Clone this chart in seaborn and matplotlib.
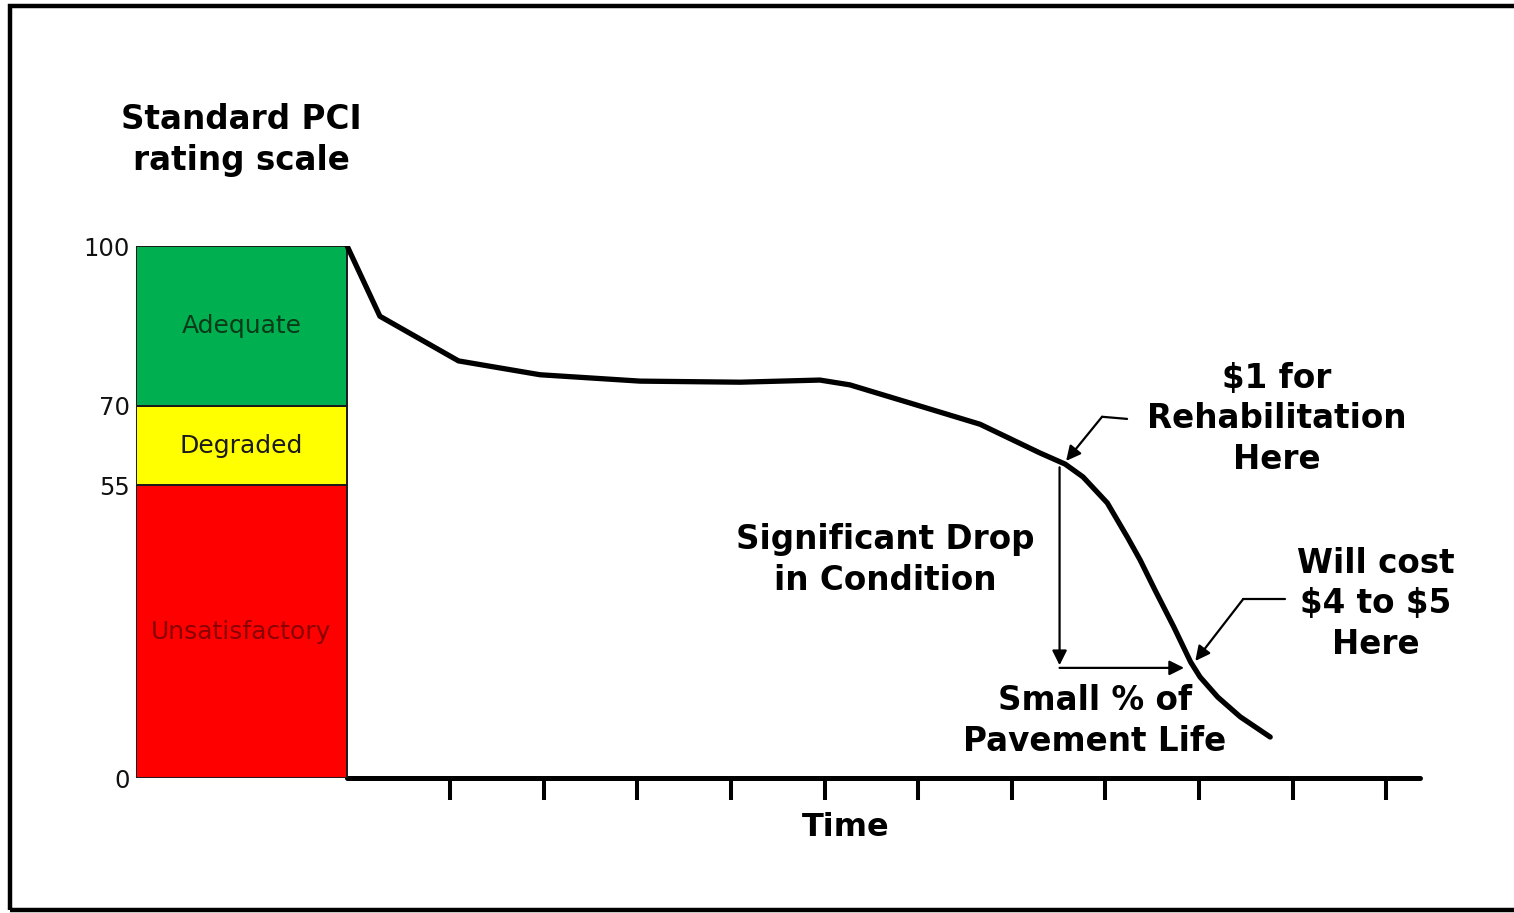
import numpy as np
import pandas as pd
import matplotlib
matplotlib.use("Agg")
import matplotlib.pyplot as plt
from matplotlib.patches import Rectangle
import seaborn as sns

# ---------------- data ----------------
band_names = ["Unsatisfactory", "Degraded", "Adequate"]
band_low = [0, 55, 70]
band_high = [55, 70, 100]
band_colors = ["#FF0000", "#FFFF00", "#00B050"]
band_text_colors = ["#8a0000", "#1a1a1a", "#0b3a18"]

y_tick_values = [0, 55, 70, 100]
time_ticks = [1, 2, 3, 4, 5, 6, 7, 8, 9, 10, 11]

time_points = [-0.10, 0.25, 1.09, 1.96, 3.03, 4.10, 4.95, 5.27, 5.91, 6.66,
               7.30, 7.57, 7.76, 8.02, 8.24, 8.37, 8.53, 8.73, 8.91, 9.01,
               9.20, 9.44, 9.76]
pci_values = [100, 86.8, 78.4, 75.8, 74.6, 74.4, 74.8, 73.9, 70.5, 66.5,
              61.1, 59.0, 56.6, 51.7, 45.1, 41.0, 35.3, 28.4, 21.8, 19.0,
              15.2, 11.5, 7.7]

rehab_index = 11      # "$1 for Rehabilitation Here"
late_index = 18       # "Will cost $4 to $5 Here"

# ---------------- figure ----------------
W, H = 1514, 913
sns.set_style("white")
plt.rcParams["font.family"] = ["DejaVu Sans"]
plt.rcParams["text.color"] = "black"
plt.rcParams["axes.labelcolor"] = "black"

fig = plt.figure(figsize=(W / 100, H / 100), dpi=100)
ax = fig.add_axes([136 / W, (H - 778) / H, (1420 - 136) / W, 532 / H])
ax.set_xlim(-2.355, 11.36)
ax.set_ylim(0, 100)

# rating scale bar
bar_left, bar_right = -2.355, -0.10
bar_center = (bar_left + bar_right) / 2
bar_width = bar_right - bar_left
for lo, hi, col, name, tc in zip(band_low, band_high, band_colors,
                                 band_names, band_text_colors):
    ax.bar(bar_center, hi - lo, bottom=lo, width=bar_width, color=col,
           edgecolor="#1a1a1a", linewidth=1.4, zorder=3)
    ax.text(bar_center, (lo + hi) / 2, name, ha="center", va="center",
            fontsize=18, color=tc, zorder=4)

# deterioration curve
df = pd.DataFrame({"Time": time_points, "PCI": pci_values})
sns.lineplot(data=df, x="Time", y="PCI", sort=False, color="black",
             linewidth=3.8, ax=ax, zorder=5)
ax.lines[-1].set_solid_joinstyle("round")
ax.lines[-1].set_solid_capstyle("round")
ax.set_ylabel("")

# axes styling
for s in ["left", "top", "right"]:
    ax.spines[s].set_visible(False)
ax.spines["bottom"].set_linewidth(3.6)
ax.spines["bottom"].set_color("black")
ax.spines["bottom"].set_bounds(-0.10, 11.36)
ax.spines["bottom"].set_capstyle("round")

ax.set_xticks(time_ticks)
ax.tick_params(axis="x", bottom=True, direction="out", length=16,
               width=2.9, color="black", labelbottom=False)
ax.set_yticks(y_tick_values)
ax.set_yticklabels([str(v) for v in y_tick_values])
ax.tick_params(axis="y", left=True, length=0, pad=4.5, labelsize=17.5,
               labelcolor="#111111")

ax.set_xlabel("Time", fontsize=23, fontweight="bold")
ax.xaxis.set_label_coords((846 - 136) / 1284, (778 - 812) / 532)

# annotation arrows
t0, p0 = time_points[rehab_index], pci_values[rehab_index]
t1, p1 = time_points[late_index], pci_values[late_index]
arrow_kw = dict(arrowstyle="-|>", color="black", lw=1.6, mutation_scale=22,
                shrinkA=0, shrinkB=0)
vx = t0 - 0.06
ax.annotate("", xy=(vx, p1 - 0.6), xytext=(vx, p0 - 0.6), arrowprops=arrow_kw)
ax.annotate("", xy=(t1 - 0.07, p1 - 1.1), xytext=(vx, p1 - 1.1), arrowprops=arrow_kw)

# bent pointer to rehab point
bend1 = (7.964, 67.9)
ax.plot([8.231, bend1[0]], [67.5, bend1[1]], color="black", lw=1.6)
ax.annotate("", xy=(t0 + 0.01, p0 + 0.6), xytext=bend1, arrowprops=arrow_kw)

# bent pointer to late point
bend2 = (9.47, 33.6)
ax.plot([9.92, bend2[0]], [33.6, bend2[1]], color="black", lw=1.6)
ax.annotate("", xy=(t1 + 0.05, p1 + 0.2), xytext=bend2, arrowprops=arrow_kw)

# texts
def ftext(x, y, s, **kw):
    fig.text(x / W, 1 - y / H, s, ha="center", va="center",
             fontweight="bold", fontsize=23.5, linespacing=1.3,
             parse_math=False, color="black", **kw)

ftext(241, 140, "Standard PCI\nrating scale")
ftext(885, 560, "Significant Drop\nin Condition")
ftext(1277, 419, "$1 for\nRehabilitation\nHere")
ftext(1376, 604, "Will cost\n$4 to $5\nHere")
ftext(1095, 721, "Small % of\nPavement Life")

# outer frame
fig.add_artist(Rectangle((10 / W, 3 / H), 1.05, (907 - 3) / H,
                         transform=fig.transFigure, fill=False,
                         edgecolor="black", linewidth=3.2, clip_on=False))

fig.savefig("out.png", dpi=100)
